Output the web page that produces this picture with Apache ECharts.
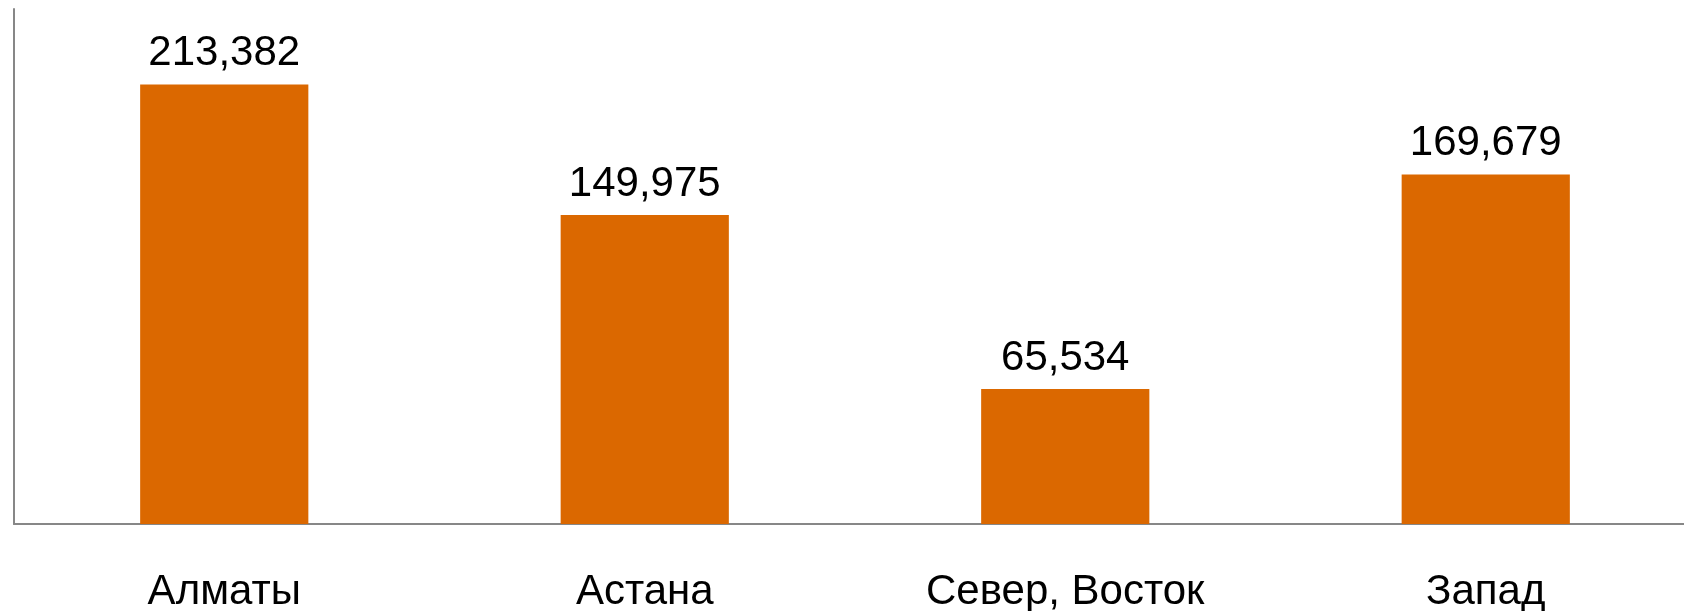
<!DOCTYPE html>
<html>
<head>
<meta charset="utf-8">
<script src="https://cdn.jsdelivr.net/npm/echarts@6/dist/echarts.min.js"></script>
<style>
  html, body { margin: 0; padding: 0; background: #fff; overflow: hidden; }
  #chart { width: 1684px; height: 611px; }
</style>
</head>
<body>
<div id="chart"></div>
<script>
// регионы и значения
const categories = ['Алматы', 'Астана', 'Север, Восток', 'Запад'];
const values = [213382, 149975, 65534, 169679];

const chart = echarts.init(document.getElementById('chart'));

const fmt = (v) => String(v).replace(/\B(?=(\d{3})+(?!\d))/g, ',');
const axisColor = '#878787';

chart.setOption({
    animation: false,
    textStyle: { fontFamily: '"Liberation Sans", Arial, sans-serif' },
    grid: {
        left: 14, right: -12, top: 9, bottom: 87,
        containLabel: false, outerBoundsMode: 'none'
    },
    xAxis: {
        type: 'category',
        data: categories,
        axisTick: { show: false },
        axisLine: { show: true, lineStyle: { color: axisColor, width: 2 } },
        axisLabel: {
            color: '#000',
            fontSize: 42,
            margin: 47,
            interval: 0
        }
    },
    yAxis: {
        type: 'value',
        min: 0,
        max: 250000,
        axisLine: { show: true, lineStyle: { color: axisColor, width: 2 } },
        axisTick: { show: false },
        axisLabel: { show: false },
        splitLine: { show: false }
    },
    series: [{
        type: 'bar',
        data: values,
        barWidth: '40%',
        itemStyle: { color: '#db6800' },
        label: {
            show: true,
            position: 'top',
            distance: 10,
            color: '#000',
            fontSize: 42,
            formatter: (p) => fmt(p.value)
        }
    }]
});
</script>
</body>
</html>
